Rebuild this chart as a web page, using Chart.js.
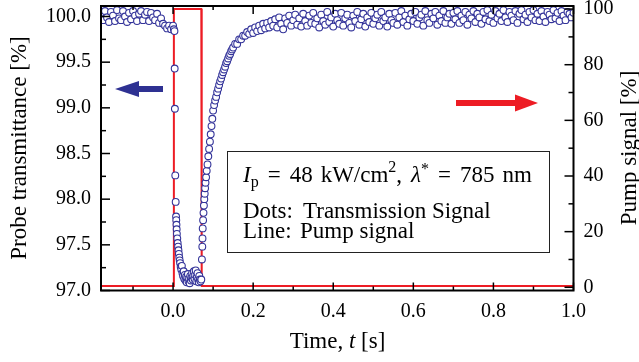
<!DOCTYPE html>
<html>
<head>
<meta charset="utf-8">
<script src="https://cdn.jsdelivr.net/npm/chart.js@4.4.1/dist/chart.umd.min.js"></script>
<style>
  body { margin: 0; background: #fff; }
</style>
</head>
<body>
<canvas id="chart" width="639" height="362"></canvas>
<script>
// probe transmittance [%], before the pump (sampled every 5 ms from -0.18 s)
const preStart = -0.18, preStep = 0.005;
const preSignal = [100.04, 99.96, 100.06, 99.99, 99.94, 100.05, 100.01, 99.95, 100.07, 99.98,
  99.96, 100.06, 100.00, 99.94, 100.04, 99.97, 100.06, 100.01, 99.95, 100.03,
  100.06, 99.96, 100.02, 100.05, 99.95, 100.04, 99.99, 99.96, 100.03, 99.93,
  99.98, 99.92, 99.90, 99.87, 99.90, 99.86];

// during the pump pulse and the fast recovery
const pulseTime = [0.0, 0.002, 0.0035, 0.004, 0.0045, 0.0055, 0.0065, 0.0075, 0.008, 0.0085,
  0.009, 0.0095, 0.0105, 0.0115, 0.0125, 0.0135, 0.0145, 0.0155, 0.0165, 0.0175,
  0.019, 0.0205, 0.022, 0.0235, 0.025, 0.0265, 0.028, 0.0295, 0.031, 0.0325,
  0.034, 0.0355, 0.037, 0.0385, 0.04, 0.0415, 0.043, 0.0445, 0.046, 0.0475,
  0.049, 0.0505, 0.052, 0.0535, 0.055, 0.0565, 0.058, 0.0595, 0.061, 0.0625,
  0.064, 0.0655, 0.067, 0.0685, 0.0705,
  0.072, 0.073, 0.0735, 0.074, 0.075, 0.076, 0.077, 0.078, 0.079, 0.08,
  0.081, 0.0825, 0.084, 0.086, 0.088, 0.09, 0.092, 0.094, 0.096, 0.098,
  0.1, 0.1025, 0.105, 0.1075, 0.11, 0.1125, 0.115, 0.1175, 0.12, 0.1225,
  0.125, 0.1275, 0.13, 0.1325, 0.135, 0.1375, 0.14, 0.1425, 0.145, 0.1475];
const pulseSignal = [99.90, 99.86, 99.84, 99.43, 98.99, 98.26, 97.97, 97.81, 97.77, 97.72,
  97.67, 97.62, 97.57, 97.52, 97.48, 97.44, 97.40, 97.36, 97.33, 97.30,
  97.26, 97.23, 97.27, 97.19, 97.16, 97.21, 97.13, 97.17, 97.11, 97.15,
  97.09, 97.14, 97.18, 97.10, 97.13, 97.08, 97.16, 97.11, 97.14, 97.19,
  97.12, 97.16, 97.21, 97.13, 97.17, 97.22, 97.10, 97.15, 97.19, 97.12,
  97.09, 97.16, 97.12, 97.10, 97.12,
  97.34, 97.48, 97.57, 97.68, 97.77, 97.85, 97.93, 98.00, 98.06, 98.12,
  98.18, 98.24, 98.31, 98.38, 98.47, 98.55, 98.63, 98.71, 98.80, 98.88,
  98.97, 99.03, 99.08, 99.12, 99.17, 99.21, 99.25, 99.29, 99.32, 99.36,
  99.39, 99.42, 99.45, 99.49, 99.51, 99.54, 99.57, 99.59, 99.62, 99.64];

// slow tail (sampled every 5 ms from 0.15 s to 1.0 s)
const postStart = 0.15, postStep = 0.005;
const postSignal = [99.66, 99.70, 99.70, 99.75, 99.75, 99.79, 99.79, 99.83, 99.81, 99.86,
  99.82, 99.88, 99.84, 99.90, 99.85, 99.92, 99.87, 99.93, 99.88, 99.95,
  99.90, 99.97, 99.88, 99.99, 99.92, 99.86, 99.98, 99.93, 100.01, 99.90,
  99.96, 100.02, 99.91, 99.98, 99.89, 100.03, 99.95, 99.90, 100.01, 99.93,
  100.04, 99.92, 99.98, 99.88, 100.02, 99.95, 99.91, 100.05, 99.94, 99.99,
  99.89, 100.03, 99.96, 99.92, 100.04, 99.90, 99.98, 100.02, 99.93, 99.88,
  100.01, 99.95, 100.05, 99.91, 99.97, 100.03, 99.89, 99.99, 99.94, 100.04,
  99.92, 99.98, 100.02, 99.90, 100.05, 99.95, 99.99, 99.89, 100.03, 99.96,
  99.93, 100.04, 99.91, 99.99, 100.06, 99.94, 100.01, 99.90, 99.97, 100.03,
  99.95, 100.05, 99.92, 99.99, 100.02, 99.90, 100.06, 99.96, 99.93, 100.03,
  99.98, 100.05, 99.91, 100.01, 99.95, 100.06, 99.93, 99.99, 100.03, 99.92,
  100.04, 99.97, 100.06, 99.93, 100.01, 99.96, 100.05, 99.91, 100.02, 99.98,
  100.06, 99.94, 100.03, 99.99, 99.92, 100.05, 99.97, 100.07, 99.95, 100.02,
  99.93, 100.06, 99.98, 100.03, 99.95, 100.07, 99.99, 99.94, 100.05, 100.01,
  99.96, 100.06, 99.93, 100.03, 100.07, 99.97, 100.02, 99.94, 100.05, 99.99,
  100.07, 99.96, 100.03, 99.95, 100.06, 100.00, 99.94, 100.05, 100.02, 99.97,
  100.07, 99.98, 100.04, 99.95, 100.06, 100.01, 99.96, 100.05, 100.03, 99.99,
  100.04];

// pump signal [%]
const pumpTime = [-0.18, 0.0, 0.002, 0.0705, 0.0715, 1.0];
const pumpLevel = [0.5, 0.5, 100.0, 100.0, 0.5, 0.5];

// axis ticks
const xMajor = [0.0, 0.2, 0.4, 0.6, 0.8, 1.0];
const xMinor = [-0.1, 0.1, 0.3, 0.5, 0.7, 0.9];
const yMajor = [97.0, 97.5, 98.0, 98.5, 99.0, 99.5, 100.0];
const yMinor = [97.25, 97.75, 98.25, 98.75, 99.25, 99.75];
const y2Major = [0, 20, 40, 60, 80, 100];
const y2Minor = [10, 30, 50, 70, 90];

const SERIF = '"Liberation Serif", "Times New Roman", serif';
const DOT = '#34349a';
const RED = '#ed1c24';

let dots = [];
preSignal.forEach(function(v, i) { dots.push({x: preStart + i * preStep, y: v}); });
pulseTime.forEach(function(t, i) { dots.push({x: t, y: pulseSignal[i]}); });
postSignal.forEach(function(v, i) { dots.push({x: postStart + i * postStep, y: v}); });
let pump = pumpTime.map(function(t, i) { return {x: t, y: pumpLevel[i]}; });

function setTicks(list) {
  return function(scale) { scale.ticks = list.map(function(v) { return {value: v}; }); };
}
function noPad(s) { s.paddingTop = 0; s.paddingBottom = 0; s.paddingLeft = 0; s.paddingRight = 0; }

const decor = {
  id: 'decor',
  afterDraw(chart) {
    const ctx = chart.ctx, a = chart.chartArea;
    const sx = chart.scales.x, sy = chart.scales.y, sy2 = chart.scales.y2;
    ctx.save();
    ctx.strokeStyle = '#000';
    ctx.lineWidth = 1.5;
    function seg(x1, y1, x2, y2) { ctx.beginPath(); ctx.moveTo(x1, y1); ctx.lineTo(x2, y2); ctx.stroke(); }
    xMajor.forEach(function(v) { const p = sx.getPixelForValue(v); seg(p, a.bottom, p, a.bottom - 8); seg(p, a.top, p, a.top + 8); });
    xMinor.forEach(function(v) { const p = sx.getPixelForValue(v); seg(p, a.bottom, p, a.bottom - 4); seg(p, a.top, p, a.top + 4); });
    yMajor.forEach(function(v) { const p = sy.getPixelForValue(v); seg(a.left, p, a.left + 9, p); });
    yMinor.forEach(function(v) { const p = sy.getPixelForValue(v); seg(a.left, p, a.left + 5, p); });
    y2Major.forEach(function(v) { const p = sy2.getPixelForValue(v); seg(a.right, p, a.right - 9, p); });
    y2Minor.forEach(function(v) { const p = sy2.getPixelForValue(v); seg(a.right, p, a.right - 5, p); });
    ctx.lineWidth = 2;
    ctx.strokeRect(a.left, a.top, a.right - a.left, a.bottom - a.top);

    // arrows
    ctx.fillStyle = '#2e3192';
    ctx.fillRect(137, 86, 26, 6);
    ctx.beginPath(); ctx.moveTo(115, 89); ctx.lineTo(139, 81); ctx.lineTo(139, 97); ctx.closePath(); ctx.fill();
    ctx.fillStyle = RED;
    ctx.fillRect(456, 100, 61, 6);
    ctx.beginPath(); ctx.moveTo(538, 103); ctx.lineTo(515, 94.5); ctx.lineTo(515, 111.5); ctx.closePath(); ctx.fill();

    // info box
    ctx.fillStyle = '#fff';
    ctx.fillRect(227, 151, 322, 101);
    ctx.strokeStyle = '#222';
    ctx.lineWidth = 1;
    ctx.strokeRect(227.5, 151.5, 322, 101);
    ctx.fillStyle = '#000';
    ctx.textBaseline = 'alphabetic';
    ctx.textAlign = 'left';
    let cx = 243;
    function piece(txt, font, y0, gap) { ctx.font = font; ctx.fillText(txt, cx, y0); cx += ctx.measureText(txt).width + (gap || 0); }
    const big = '23px ' + SERIF, small = '16px ' + SERIF;
    piece('I', 'italic ' + big, 182);
    piece('p', small, 187, 9);
    piece('=', big, 182, 9);
    piece('48', big, 182, 8);
    piece('kW/cm', big, 182);
    piece('2', small, 172);
    piece(',', big, 182, 9);
    piece('\u03bb', 'italic ' + big, 182);
    piece('*', small, 174, 9);
    piece('=', big, 182, 9);
    piece('785', big, 182, 8);
    piece('nm', big, 182);
    ctx.font = big;
    ctx.fillText('Dots:', 243, 218);
    ctx.fillText('Transmission Signal', 303, 218);
    ctx.fillText('Line:', 243, 238);
    ctx.fillText('Pump signal', 300, 238);

    // axis titles
    ctx.textAlign = 'center';
    ctx.textBaseline = 'middle';
    ctx.save(); ctx.translate(20, 148); ctx.rotate(-Math.PI / 2); ctx.fillText('Probe transmittance [%]', 0, 0); ctx.restore();
    ctx.save(); ctx.translate(630, 148); ctx.rotate(-Math.PI / 2); ctx.fillText('Pump signal [%]', 0, 0); ctx.restore();
    ctx.textAlign = 'left';
    ctx.textBaseline = 'alphabetic';
    const it = 'italic ' + big;
    ctx.font = big; const w1 = ctx.measureText('Time, ').width, w3 = ctx.measureText(' [s]').width;
    ctx.font = it; const w2 = ctx.measureText('t').width;
    cx = 337.5 - (w1 + w2 + w3) / 2;
    piece('Time, ', big, 348);
    piece('t', it, 348);
    piece(' [s]', big, 348);
    ctx.restore();
  }
};

new Chart('chart', {
  type: 'scatter',
  data: {
    datasets: [{
      label: 'Transmission',
      data: dots,
      yAxisID: 'y',
      pointStyle: 'circle',
      pointRadius: 3.4,
      pointBorderWidth: 1.1,
      borderColor: DOT,
      backgroundColor: '#fff',
      pointHoverRadius: 3.4
    }, {
      label: 'Pump',
      data: pump,
      yAxisID: 'y2',
      showLine: true,
      pointRadius: 0,
      borderColor: RED,
      borderWidth: 2,
      backgroundColor: RED
    }]
  },
  options: {
    responsive: false,
    animation: false,
    events: [],
    layout: { padding: { top: 6, right: 0, left: 0, bottom: 0 } },
    plugins: { legend: { display: false }, tooltip: { enabled: false } },
    scales: {
      x: {
        type: 'linear', min: -0.18, max: 1.0,
        afterFit: function(s) { s.height = 71.5; noPad(s); },
        afterBuildTicks: setTicks(xMajor),
        grid: { display: false, drawTicks: false }, border: { display: false },
        ticks: { color: '#000', padding: 9, maxRotation: 0, font: { family: SERIF, size: 20 },
          callback: function(v) { return v.toFixed(1); } }
      },
      y: {
        position: 'left', min: 97.0, max: 100.115,
        afterFit: function(s) { s.width = 101; noPad(s); },
        afterBuildTicks: setTicks(yMajor),
        grid: { display: false, drawTicks: false }, border: { display: false },
        ticks: { color: '#000', padding: 10, font: { family: SERIF, size: 20 },
          callback: function(v) { return v.toFixed(1); } }
      },
      y2: {
        position: 'right', min: -1.15, max: 101.1,
        afterFit: function(s) { s.width = 65.5; noPad(s); },
        afterBuildTicks: setTicks(y2Major),
        grid: { display: false, drawTicks: false }, border: { display: false },
        ticks: { color: '#000', padding: 10, font: { family: SERIF, size: 20 },
          callback: function(v) { return String(v); } }
      }
    }
  },
  plugins: [decor]
});
</script>
</body>
</html>
